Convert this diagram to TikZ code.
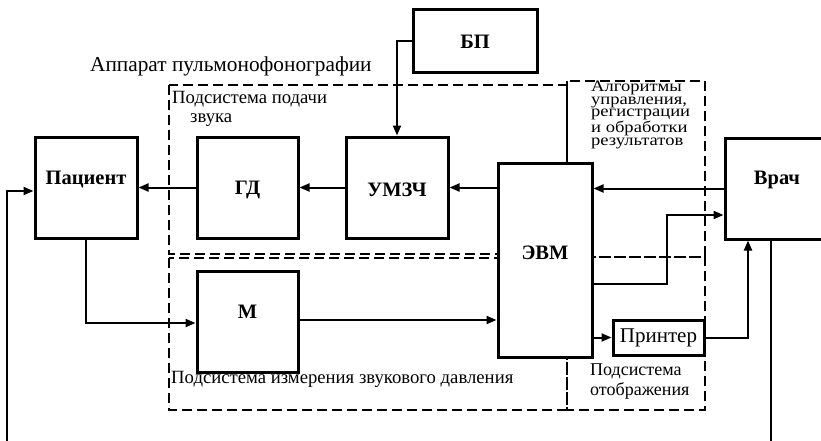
\documentclass[tikz,border=0pt]{standalone}
\usepackage{fontspec}
\setmainfont{Liberation Serif}
\newfontfamily\algfont[FakeStretch=1.16]{Liberation Serif}
\usetikzlibrary{arrows.meta}
\begin{document}
\begin{tikzpicture}[x=1pt,y=-1pt,
  blk/.style={draw,line width=3pt,fill=white,inner sep=0pt},
  lbl/.style={font=\fontsize{20.5}{20.5}\selectfont\bfseries,inner sep=0pt},
  txt/.style={font=\fontsize{18.7}{18.7}\selectfont,inner sep=0pt,align=left},
  alg/.style={font=\algfont\fontsize{16}{12.5}\selectfont,inner sep=0pt,align=left},
  conn/.style={line width=2pt,-{Triangle[length=10pt,width=8pt]}},
  wire/.style={line width=2pt},
  dsh/.style={line width=1.8pt,dash pattern=on 10pt off 5pt}]
\useasboundingbox (0,0) rectangle (821,441);
\clip (0,0) rectangle (821,441);
% dashed subsystem frames
\draw[dsh] (169,85) rectangle (567,254);
\draw[dsh] (169,258) rectangle (567,410);
\draw[dsh] (567,81) rectangle (705,257);
\draw[dsh] (567,257) rectangle (705,410);
% blocks
\node[blk,minimum width=102pt,minimum height=101pt] (pat) at (86,187.5) {};
\node[blk,minimum width=101pt,minimum height=101pt] (gd) at (247.5,187.5) {};
\node[blk,minimum width=102pt,minimum height=101pt] (umz) at (397,187.5) {};
\node[blk,minimum width=124pt,minimum height=63pt] (bp) at (475,41.5) {};
\node[blk,minimum width=94pt,minimum height=194pt] (evm) at (545,260) {};
\node[blk,minimum width=110pt,minimum height=101pt] (vrach) at (780,188.5) {};
\node[blk,minimum width=101pt,minimum height=101pt] (m) at (247.5,321.5) {};
\node[blk,minimum width=91pt,minimum height=35pt,font=\fontsize{21}{21}\selectfont] (pr) at (658.5,337.5) {Принтер};
% block labels
\node[lbl] (tpat) at (86,180) {Пациент};
\node[lbl] (tgd) at (247.5,190) {ГД};
\node[lbl] (tumz) at (397,190) {УМЗЧ};
\node[lbl] (tbp) at (475,41.5) {БП};
\node[lbl] (tevm) at (545,253) {ЭВМ};
\node[lbl] (tm) at (247.5,312) {М};
\node[lbl] (tvrach) at (777,180) {Врач};
% texts
\node[txt,font=\fontsize{21.3}{21.3}\selectfont,anchor=base west] (tapp) at (90,72) {Аппарат пульмонофонографии};
\node[txt,anchor=base west] (tsub1) at (172,103) {Подсистема подачи};
\node[txt,anchor=base west] (tsub1b) at (190,122) {звука};
\node[alg,anchor=base west] (talg) at (591,145) {Алгоритмы\\управления,\\регистрации\\и обработки\\результатов};
\node[txt,anchor=base west] (tsub2) at (171,383) {Подсистема измерения звукового давления};
\node[txt,font=\fontsize{18}{18}\selectfont,anchor=base west] (tsub3) at (590,375) {Подсистема};
\node[txt,font=\fontsize{18}{18}\selectfont,anchor=base west] (tsub3b) at (590,395) {отображения};
% connectors
\coordinate (fbl) at (7,445);
\draw[conn] (gd.west) -- (pat.east);
\draw[conn] (umz.west) -- (gd.east);
\draw[conn] (evm.west |- umz.east) -- (umz.east);
\draw[conn] (vrach.west) -- (vrach.west -| evm.east);
\draw[conn] (bp.west) -| (umz.north);
\draw[conn] (pat.south) |- ([yshift=-1.5pt]m.west);
\draw[conn] ([yshift=1.5pt]m.east) -- ([yshift=1.5pt]m.east -| evm.west);
\draw[conn] ([yshift=-24pt]evm.east) -- ++(73,0) |- ([yshift=-26.5pt]vrach.west);
\draw[conn] (evm.east |- pr.west) -- (pr.west);
\draw[conn] (pr.east) -| ([xshift=-32pt]vrach.south);
\draw[wire] ([xshift=-9pt]vrach.south) -- ++(0,210);
\draw[conn] (fbl) |- ([yshift=-3.5pt]pat.west);
\end{tikzpicture}
\end{document}
